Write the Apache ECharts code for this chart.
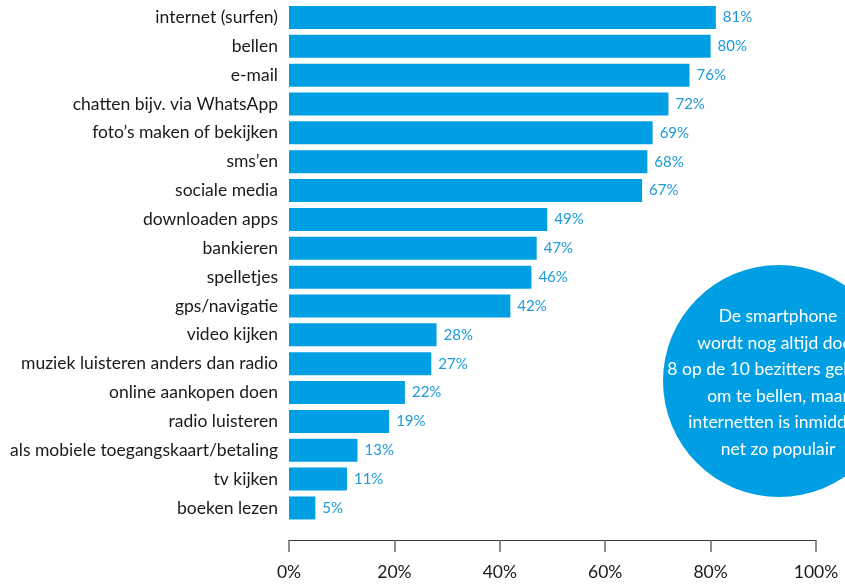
<!DOCTYPE html>
<html>
<head>
<meta charset="utf-8">
<script src="https://cdn.jsdelivr.net/npm/echarts@6/dist/echarts.min.js"></script>
<style>
  html, body { margin: 0; padding: 0; background: #fff; }
  #chart { width: 845px; height: 585px; }
</style>
</head>
<body>
<div id="chart"></div>
<script>
// Smartphone usage: share of owners per activity
const categories = [
  'internet (surfen)', 'bellen', 'e-mail', 'chatten bijv. via WhatsApp',
  'foto\u2019s maken of bekijken', 'sms\u2019en', 'sociale media', 'downloaden apps',
  'bankieren', 'spelletjes', 'gps/navigatie', 'video kijken',
  'muziek luisteren anders dan radio', 'online aankopen doen', 'radio luisteren',
  'als mobiele toegangskaart/betaling', 'tv kijken', 'boeken lezen'
];
const shares = [81, 80, 76, 72, 69, 68, 67, 49, 47, 46, 42, 28, 27, 22, 19, 13, 11, 5];
const tickValues = [0, 20, 40, 60, 80, 100];
const calloutLines = [
  'De smartphone',
  'wordt nog altijd door',
  '8 op de 10 bezitters gebruikt',
  'om te bellen, maar',
  'internetten is inmiddels',
  'net zo populair'
];

const BLUE = '#009fe3';
const FONT = 'Lato, "Noto Sans", sans-serif';

const chart = echarts.init(document.getElementById('chart'), null, { renderer: 'canvas' });

chart.setOption({
  animation: false,
  backgroundColor: '#ffffff',
  grid: { left: 289, right: 29, top: 3, bottom: 62.6, containLabel: false },
  xAxis: {
    type: 'value',
    min: 0,
    max: 100,
    interval: 20,
    position: 'bottom',
    offset: 17.6,
    axisLine: { show: true, lineStyle: { color: '#3a3a3a', width: 1.2 } },
    axisTick: { show: true, length: 12, inside: false, lineStyle: { color: '#6a6a6a', width: 1.5 } },
    splitLine: { show: false },
    axisLabel: {
      margin: 23,
      color: '#1a1a1a',
      fontFamily: FONT,
      fontSize: 17.5,
      formatter: v => tickValues.includes(v) ? v + '%' : ''
    }
  },
  yAxis: {
    type: 'category',
    data: categories,
    inverse: true,
    axisLine: { show: false },
    axisTick: { show: false },
    axisLabel: {
      margin: 11,
      color: '#1a1a1a',
      fontFamily: FONT,
      fontSize: 17.5
    }
  },
  series: [{
    type: 'bar',
    data: shares,
    barWidth: 23,
    itemStyle: { color: BLUE },
    label: {
      show: true,
      position: 'right',
      distance: 7,
      color: '#1e9ad8',
      fontFamily: FONT,
      fontSize: 15,
      formatter: p => p.value + '%'
    }
  }],
  graphic: [{
    type: 'group',
    left: 663,
    top: 265,
    children: [
      {
        type: 'circle',
        shape: { cx: 116, cy: 116, r: 116 },
        style: { fill: BLUE }
      },
      {
        type: 'text',
        x: 115,
        y: 38,
        style: {
          text: calloutLines.join('\n'),
          fill: '#ffffff',
          font: '17.5px ' + FONT,
          lineHeight: 26.6,
          align: 'center',
          verticalAlign: 'top'
        }
      }
    ]
  }]
});
</script>
</body>
</html>
